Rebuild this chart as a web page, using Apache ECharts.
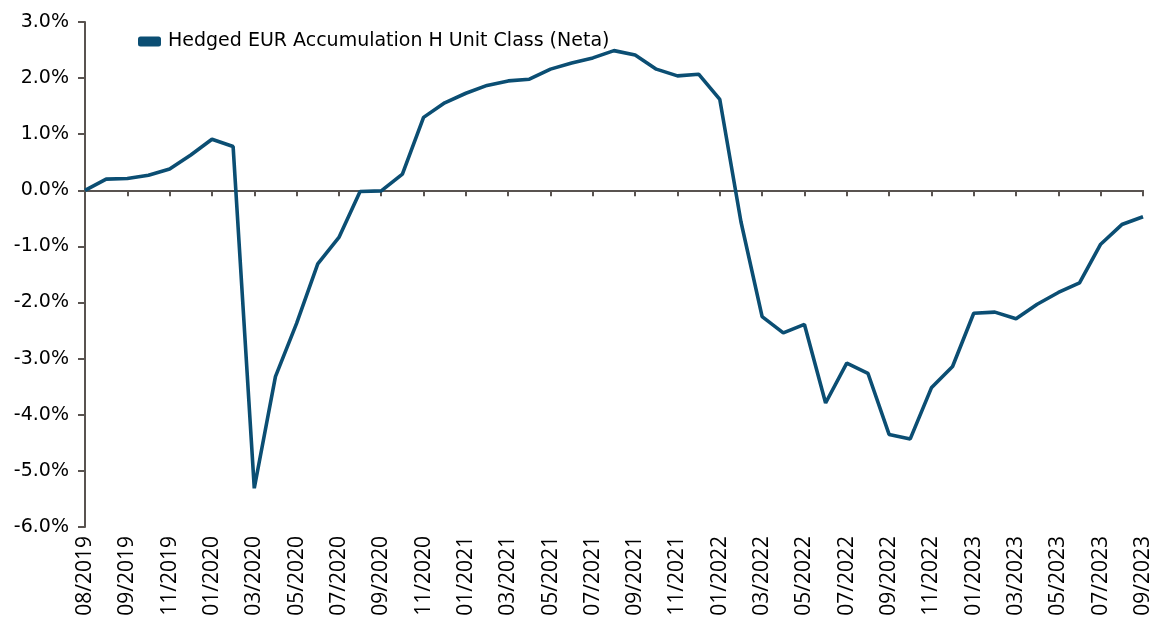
<!DOCTYPE html>
<html>
<head>
<meta charset="utf-8">
<script src="https://cdn.jsdelivr.net/npm/echarts@6/dist/echarts.min.js"></script>
<style>
html,body{margin:0;padding:0;background:#fff;}
#chart{width:1163px;height:623px;}
</style>
</head>
<body>
<div id="chart"></div>
<script>
var categories = [
  '08/2019', '',
  '09/2019', '10/2019', '11/2019', '12/2019',
  '01/2020', '02/2020', '03/2020', '04/2020', '05/2020', '06/2020',
  '07/2020', '08/2020', '09/2020', '10/2020', '11/2020', '12/2020',
  '01/2021', '02/2021', '03/2021', '04/2021', '05/2021', '06/2021',
  '07/2021', '08/2021', '09/2021', '10/2021', '11/2021', '12/2021',
  '01/2022', '02/2022', '03/2022', '04/2022', '05/2022', '06/2022',
  '07/2022', '08/2022', '09/2022', '10/2022', '11/2022', '12/2022',
  '01/2023', '02/2023', '03/2023', '04/2023', '05/2023', '06/2023',
  '07/2023', '08/2023', '09/2023'
];
var seriesName = 'Hedged EUR Accumulation H Unit Class (Neta)';
var seriesValues = [
  0.00, 0.20, 0.21, 0.27, 0.38, 0.63, 0.91, 0.78, -5.31, -3.32,
  -2.37, -1.31, -0.84, -0.02, -0.01, 0.29, 1.30, 1.56, 1.73, 1.87,
  1.95, 1.98, 2.16, 2.27, 2.36, 2.49, 2.41, 2.16, 2.04, 2.07,
  1.62, -0.56, -2.25, -2.54, -2.39, -3.79, -3.08, -3.26, -4.35, -4.43,
  -3.52, -3.14, -2.19, -2.17, -2.29, -2.03, -1.82, -1.65, -0.96, -0.61,
  -0.47
];
var yMin = -6, yMax = 3, yStep = 1;

var axisColor = '#595350';
var lineColor = '#0b4e73';

var chart = echarts.init(document.getElementById('chart'), null, {renderer: 'canvas'});
chart.setOption({
  animation: false,
  backgroundColor: '#ffffff',
  grid: {left: 85, right: 20, top: 22, bottom: 96, containLabel: false},
  legend: {
    data: [{name: seriesName, icon: 'roundRect'}],
    left: 138, top: 32, padding: 0,
    itemWidth: 23, itemHeight: 10,
    textStyle: {fontFamily: 'DejaVu Sans', fontSize: 19, color: '#000', padding: [0, 0, 0, 2]}
  },
  xAxis: [
    {
      type: 'category', data: categories, boundaryGap: false, position: 'bottom',
      axisLine: {show: false, onZero: false},
      axisTick: {show: false},
      axisLabel: {
        show: true, rotate: 90, interval: 1, margin: 9,
        fontFamily: 'Open Sans', fontSize: 21, color: '#000'
      },
      splitLine: {show: false}
    },
    {
      type: 'category', data: categories, boundaryGap: false, position: 'bottom',
      axisLine: {show: true, onZero: true, lineStyle: {color: axisColor, width: 2}},
      axisTick: {show: true, interval: 1, length: 6, inside: false, lineStyle: {color: axisColor, width: 2}},
      axisLabel: {show: false},
      splitLine: {show: false}
    }
  ],
  yAxis: {
    type: 'value', min: yMin, max: yMax, interval: yStep,
    axisLine: {show: true, lineStyle: {color: axisColor, width: 2}},
    axisTick: {show: true, length: 7, lineStyle: {color: axisColor, width: 2}},
    axisLabel: {
      margin: 16, fontFamily: 'DejaVu Sans', fontSize: 19, color: '#000',
      formatter: function (v) { return v.toFixed(1) + '%'; }
    },
    splitLine: {show: false}
  },
  series: [{
    name: seriesName, type: 'line', xAxisIndex: 0, data: seriesValues,
    symbol: 'none', smooth: false,
    lineStyle: {color: lineColor, width: 3.6},
    itemStyle: {color: lineColor}
  }]
});
</script>
</body>
</html>
